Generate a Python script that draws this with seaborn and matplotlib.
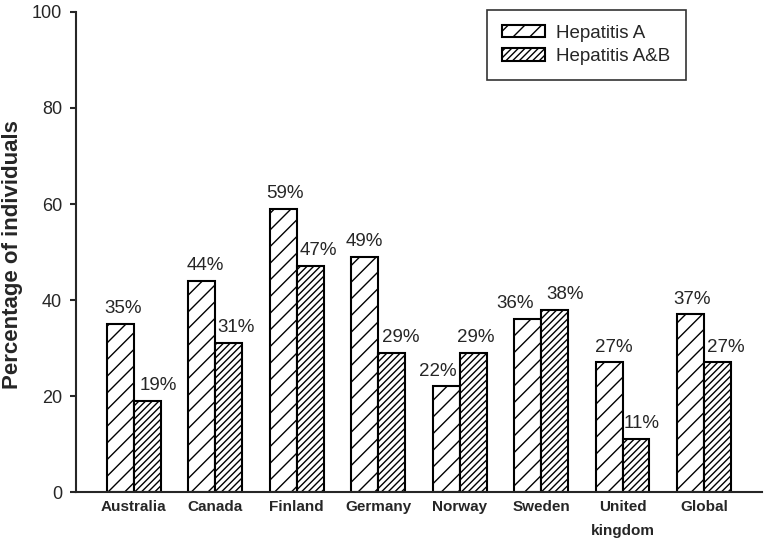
import matplotlib
matplotlib.use("Agg")
import matplotlib.pyplot as plt
import seaborn as sns
import pandas as pd

countries = ["Australia", "Canada", "Finland", "Germany", "Norway",
             "Sweden", "United\nkingdom", "Global"]
hep_a = [35, 44, 59, 49, 22, 36, 27, 37]
hep_ab = [19, 31, 47, 29, 29, 38, 11, 27]
series = ["Hepatitis A", "Hepatitis A&B"]

# horizontal nudges of the value labels (pixels), as placed in the original
a_dx = [3, 3, 2, 0, -8, -13, 5, 2]
ab_dx = [11, 7, 8, 9, 3, 11, 6, 8]

df = pd.DataFrame({
    "country": countries * 2,
    "value": hep_a + hep_ab,
    "series": [series[0]] * len(countries) + [series[1]] * len(countries),
})

sns.set_style("ticks")
plt.rcParams["font.family"] = ["Liberation Sans", "DejaVu Sans"]
plt.rcParams["hatch.linewidth"] = 1.0
plt.rcParams["hatch.color"] = "black"

fig = plt.figure(figsize=(7.68, 5.42), dpi=100)
ax = fig.add_axes([0.099, 0.092, 0.893, 0.886])

sns.barplot(data=df, x="country", y="value", hue="series", ax=ax,
            palette=["white", "white"], width=0.66,
            edgecolor="black", linewidth=1.5, errorbar=None, saturation=1)

hatches = ["//", "/////"]
for cont, h, nudges in zip(ax.containers, hatches, [a_dx, ab_dx]):
    for bar in cont:
        bar.set_hatch(h)
    texts = ax.bar_label(cont, labels=[f"{int(v)}%" for v in cont.datavalues],
                         fontsize=13.5)
    for t, dx in zip(texts, nudges):
        t.xyann = (dx * 0.72, 5)

ax.set_ylim(0, 100)
ax.set_xlim(-0.71, 7.71)
ax.set_yticks([0, 20, 40, 60, 80, 100])
ax.tick_params(axis="y", labelsize=13, length=4, width=1.5, pad=6,
               direction="out")
ax.tick_params(axis="x", length=0, labelsize=11, pad=6)
for lab in ax.get_xticklabels():
    lab.set_fontweight("bold")
    lab.set_linespacing(1.9)
ax.set_xlabel("")
ax.set_ylabel("Percentage of individuals", fontsize=16, fontweight="bold")
ax.yaxis.set_label_coords(-0.078, 0.495)
sns.despine(ax=ax)
ax.spines["left"].set_linewidth(1.5)
ax.spines["bottom"].set_linewidth(1.5)

leg = ax.legend(loc="upper right", bbox_to_anchor=(0.889, 1.005), fontsize=13.5,
                frameon=True, fancybox=False, handlelength=2.3, handleheight=0.65,
                handletextpad=0.6, borderpad=0.8, labelspacing=0.35,
                borderaxespad=0)
leg.get_frame().set_edgecolor("black")
leg.get_frame().set_linewidth(1.2)
for patch, h in zip(leg.get_patches(), hatches):
    patch.set_hatch(h)
    patch.set_facecolor("white")
    patch.set_edgecolor("black")

fig.savefig("out.png", dpi=100)
